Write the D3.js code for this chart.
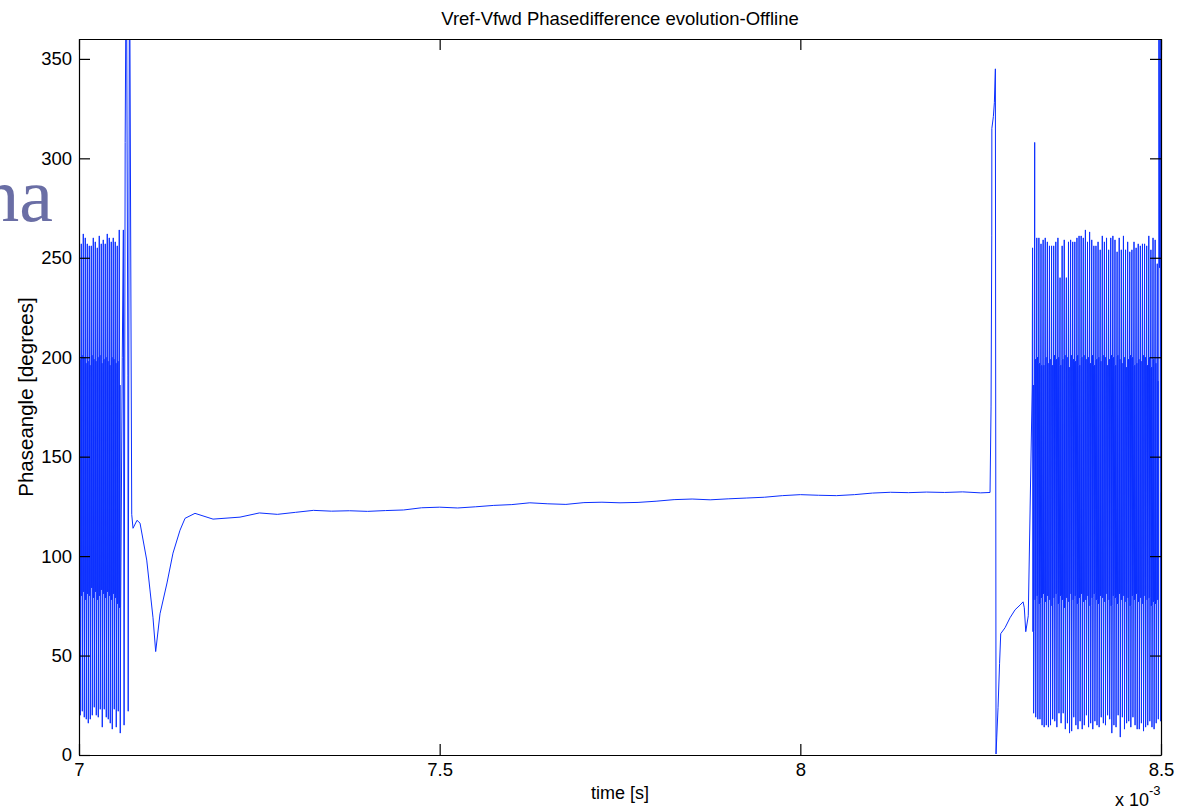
<!DOCTYPE html>
<html>
<head>
<meta charset="utf-8">
<script src="https://cdn.jsdelivr.net/npm/d3@7/dist/d3.min.js"></script>
<style>
  html, body { margin: 0; padding: 0; background: #ffffff; }
  svg { display: block; }
  .tick text { font-family: "Liberation Sans", Arial, sans-serif; font-size: 18.5px; fill: #000; }
</style>
</head>
<body>
<svg id="chart" width="1187" height="810"></svg>
<script>
// Axis ranges and ticks (time in units of 1e-3 s, phase in degrees)
const xDomain = [7, 8.5];
const yDomain = [0, 360];
const xTicks = [7, 7.5, 8, 8.5];
const xTickLabels = ["7", "7.5", "8", "8.5"];
const yTicks = [0, 50, 100, 150, 200, 250, 300, 350];

// Oscillating section before the lock: one entry per phase-detector cycle
const leftStart = 7.0;
const leftPeriod = 0.00277;
const leftTop = [257, 257, 262, 260, 257, 256, 256, 260, 258, 255, 261, 257, 259, 257, 262, 260, 258, 260, 258, 256, 264];
const leftBottom = [20, 22, 19, 18, 16, 18, 20, 24, 20, 19, 23, 14, 23, 19, 18, 16, 13, 23, 14, 22, 11];
const leftHigh = [199, 201, 200, 197, 198, 196, 201, 199, 198, 200, 201, 197, 199, 200, 198, 196, 200, 199, 197, 198, 186];
const leftLow = [79, 80, 82, 78, 81, 80, 84, 79, 82, 78, 80, 83, 81, 79, 82, 80, 78, 81, 79, 76, 74];

// Lock-in transient, dip and slowly drifting locked phase
const lockTimes = [7.0600, 7.0615, 7.0625, 7.0640, 7.0656, 7.0678, 7.0682, 7.0700, 7.0731, 7.0749, 7.0804, 7.0846,
  7.0939, 7.0984, 7.1026, 7.1063, 7.1123, 7.1220, 7.1303, 7.1400, 7.1470, 7.1608, 7.1858, 7.2232,
  7.250, 7.275, 7.300, 7.325, 7.350, 7.375, 7.400, 7.425, 7.450, 7.475, 7.500, 7.525, 7.550, 7.575,
  7.600, 7.625, 7.650, 7.675, 7.700, 7.725, 7.750, 7.775, 7.800, 7.825, 7.850, 7.875, 7.900, 7.925,
  7.950, 7.975, 8.000, 8.025, 8.050, 8.075, 8.100, 8.125, 8.150, 8.175, 8.200, 8.225, 8.250, 8.263];
const lockPhase = [200, 264, 15, 308, 420, 191, 22, 420, 121, 114, 118, 116.6,
  98, 83, 69, 52, 71, 86.5, 101.5, 113, 119, 121.5, 118.6, 119.6,
  121.7, 121.0, 122.0, 123.0, 122.6, 122.8, 122.5, 122.9, 123.2, 124.3, 124.6, 124.2, 124.8, 125.5,
  125.9, 126.8, 126.3, 126.0, 126.9, 127.1, 126.8, 127.0, 127.6, 128.4, 128.7, 128.3, 128.8, 129.2,
  129.6, 130.4, 130.9, 130.6, 130.4, 130.9, 131.7, 132.1, 131.9, 132.2, 132.0, 132.3, 131.8, 132.0];

// Loss of lock: spike, wrap to zero and partial recovery
const unlockTimes = [8.2644, 8.2654, 8.2655, 8.2676, 8.2690, 8.2704, 8.2713, 8.2723, 8.2741, 8.2762, 8.2778,
  8.2838, 8.2907, 8.2977, 8.3046, 8.3088, 8.3105, 8.3125, 8.3160];
const unlockPhase = [175, 261, 315, 321, 328, 345, 0.5, 9, 24, 46, 61,
  64, 69, 73, 75.4, 77, 74, 62, 70];

// Oscillating section after the lock is lost
const rightStart = 8.3215;
const rightPeriod = 0.00293;
const rightTop = [255, 308, 260, 260, 257, 259, 260, 258, 256, 256, 256, 258, 260, 240, 256, 259, 240, 258, 259, 258,
  258, 260, 261, 261, 260, 264, 258, 263, 259, 256, 256, 258, 254, 261, 258, 260, 254, 260, 261, 259,
  253, 260, 254, 261, 254, 258, 253, 254, 258, 255, 257, 256, 257, 257, 256, 261, 254, 260, 259, 247];
const rightBottom = [21, 19, 18, 18, 15, 14, 15, 14, 15, 18, 17, 14, 21, 16, 21, 13, 16, 11, 12, 19,
  15, 13, 17, 13, 15, 20, 14, 16, 13, 17, 15, 14, 19, 16, 15, 20, 18, 11, 15, 14,
  20, 9, 19, 13, 16, 17, 14, 19, 15, 13, 13, 16, 12, 14, 15, 17, 14, 13, 16, 18];
const rightHigh = [186, 199, 200, 197, 196, 196, 200, 197, 199, 196, 201, 199, 200, 196, 199, 201, 200, 195, 201, 199,
  198, 201, 196, 200, 201, 199, 200, 197, 201, 196, 199, 200, 198, 201, 200, 196, 199, 201, 200, 196,
  201, 199, 197, 200, 195, 199, 201, 200, 196, 197, 199, 198, 201, 200, 196, 200, 195, 199, 197, 188];
const rightLow = [62, 78, 80, 76, 79, 81, 77, 80, 78, 75, 79, 81, 76, 80, 78, 74, 79, 77, 81, 78,
  80, 76, 79, 81, 77, 78, 80, 75, 79, 81, 78, 76, 80, 79, 77, 81, 78, 75, 80, 79,
  76, 81, 78, 80, 77, 79, 75, 80, 78, 81, 77, 79, 76, 80, 78, 79, 75, 77, 76, 78];

const endTimes = [8.4970, 8.4980, 8.4990, 8.4996, 8.5000];
const endPhase = [420, 245, 420, 17, 132];

// Within one detector cycle the phase visits: high, top, low, high, bottom, low
const cycleOffsets = [0, 0.15, 0.35, 0.5, 0.65, 0.85];

function cycleSamples(start, period, hi, top, lo, bot) {
  const out = [];
  for (let i = 0; i < top.length; i++) {
    const t = start + i * period;
    const levels = [hi[i], top[i], lo[i], hi[i], bot[i], lo[i]];
    cycleOffsets.forEach((f, j) => out.push([t + f * period, levels[j]]));
  }
  return out;
}
const zipPairs = (ts, vs) => ts.map((t, i) => [t, vs[i]]);

const series = [].concat(
  cycleSamples(leftStart, leftPeriod, leftHigh, leftTop, leftLow, leftBottom),
  zipPairs(lockTimes, lockPhase),
  zipPairs(unlockTimes, unlockPhase),
  cycleSamples(rightStart, rightPeriod, rightHigh, rightTop, rightLow, rightBottom),
  zipPairs(endTimes, endPhase)
);

const svg = d3.select("#chart");
const margin = { left: 79, right: 26, top: 39, bottom: 55 };
const W = 1187, H = 810;
const iw = W - margin.left - margin.right;
const ih = H - margin.top - margin.bottom;

// Fragment of a heading from the slide behind the figure
svg.append("text")
  .attr("x", 53).attr("y", 221)
  .attr("text-anchor", "end")
  .style("font-family", "'Liberation Serif', 'Times New Roman', serif")
  .style("font-size", "76px")
  .style("fill", "#6a6ea5")
  .text("na");

const g = svg.append("g").attr("transform", `translate(${margin.left},${margin.top})`);

const x = d3.scaleLinear().domain(xDomain).range([0, iw]);
const y = d3.scaleLinear().domain(yDomain).range([ih, 0]);

svg.append("defs").append("clipPath").attr("id", "plotClip")
  .append("rect").attr("width", iw).attr("height", ih);

const line = d3.line().x(d => x(d[0])).y(d => y(d[1]));

g.append("path")
  .datum(series)
  .attr("clip-path", "url(#plotClip)")
  .attr("fill", "none")
  .attr("stroke", "#0b2fff")
  .attr("stroke-width", 1)
  .attr("stroke-linejoin", "miter")
  .attr("d", line);

// Boxed axes with inward ticks
const tickLen = 11;
g.append("g").attr("transform", `translate(0,${ih})`)
  .call(d3.axisBottom(x).tickValues(xTicks).tickFormat((d, i) => xTickLabels[i])
    .tickSizeInner(-tickLen).tickSizeOuter(0).tickPadding(8));
g.append("g")
  .call(d3.axisTop(x).tickValues(xTicks).tickFormat("")
    .tickSizeInner(-tickLen).tickSizeOuter(0));
g.append("g")
  .call(d3.axisLeft(y).tickValues(yTicks).tickFormat(d3.format("d"))
    .tickSizeInner(-tickLen).tickSizeOuter(0).tickPadding(7));
g.append("g").attr("transform", `translate(${iw},0)`)
  .call(d3.axisRight(y).tickValues(yTicks).tickFormat("")
    .tickSizeInner(-tickLen).tickSizeOuter(0));

g.selectAll(".domain").attr("stroke", "#000").attr("stroke-width", 1.2);
g.selectAll(".tick line").attr("stroke", "#000").attr("stroke-width", 1.2);

const labelFont = "'Liberation Sans', Arial, sans-serif";

svg.append("text")
  .attr("x", margin.left + iw / 2).attr("y", 25)
  .attr("text-anchor", "middle")
  .style("font-family", labelFont).style("font-size", "18.5px")
  .text("Vref-Vfwd Phasedifference evolution-Offline");

svg.append("text")
  .attr("x", margin.left + iw / 2).attr("y", 799)
  .attr("text-anchor", "middle")
  .style("font-family", labelFont).style("font-size", "18px")
  .text("time [s]");

svg.append("text")
  .attr("transform", `translate(33,${margin.top + ih / 2}) rotate(-90)`)
  .attr("text-anchor", "middle")
  .style("font-family", labelFont).style("font-size", "20.5px")
  .text("Phaseangle [degrees]");

// Exponent of the time axis
const expo = svg.append("text")
  .attr("x", 1115).attr("y", 806)
  .style("font-family", labelFont).style("font-size", "18px");
expo.append("tspan").text("x 10");
expo.append("tspan").attr("dy", -11).style("font-size", "13px").text("-3");
</script>
</body>
</html>
